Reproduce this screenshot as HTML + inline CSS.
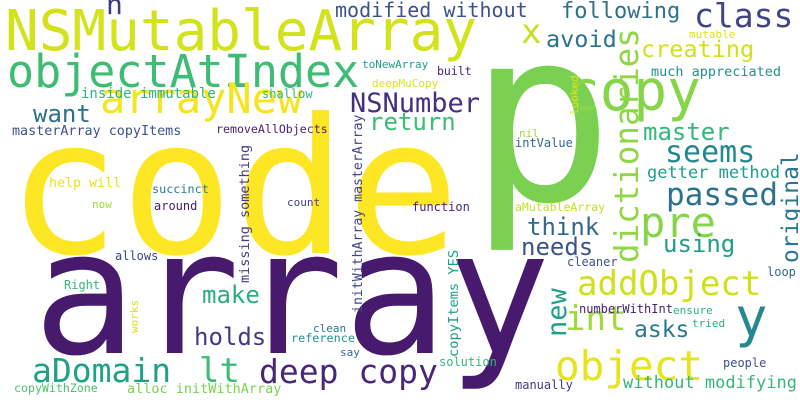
<!DOCTYPE html>
<html><head><meta charset="utf-8"><style>
html,body{margin:0;padding:0;background:#fff;overflow:hidden;}
svg{display:block;}
text{font-family:"DejaVu Sans Mono","Liberation Mono",monospace;}
</style></head><body>
<svg width="800" height="400" viewBox="0 0 800 400">
<rect width="800" height="400" fill="#fff"/>
<text x="7" y="253" font-size="188" fill="#fde725">code</text>
<text x="33" y="353" font-size="172" fill="#471a6d">array</text>
<text x="469" y="200" font-size="240" fill="#7ad151">p</text>
<text x="5" y="50" font-size="56" fill="#d2e21b">NSMutableArray</text>
<text x="106" y="14" font-size="28" fill="#3e3a82">n</text>
<text x="335" y="17" font-size="20" fill="#3b528b">modified without</text>
<text x="521" y="43" font-size="34" fill="#c8e020">x</text>
<text x="561" y="18" font-size="22" fill="#2c728e">following</text>
<text x="694" y="27" font-size="33" fill="#414487">class</text>
<text x="7" y="87" font-size="45" fill="#3dbc74">objectAtIndex</text>
<text x="100" y="113" font-size="42" fill="#f4e51e">arrayNew</text>
<text x="33" y="122" font-size="24" fill="#2d708e">want</text>
<text x="81" y="98" font-size="14" fill="#2db27d">inside immutable</text>
<text x="262" y="98" font-size="12" fill="#2fb47c">shallow</text>
<text x="362" y="68" font-size="11" fill="#1f9e89">toNewArray</text>
<text x="372" y="87" font-size="11" fill="#dde318">deepMuCopy</text>
<text x="350" y="112" font-size="27" fill="#443080">NSNumber</text>
<text x="369" y="130" font-size="24" fill="#3dbc74">return</text>
<text x="12" y="135" font-size="13.4" fill="#3b528b">masterArray copyItems</text>
<text x="216" y="133" font-size="11.6" fill="#482173">removeAllObjects</text>
<text transform="translate(249,283) rotate(-90)" font-size="13.5" fill="#443983">missing something</text>
<text transform="translate(362,313) rotate(-90)" font-size="13.2" fill="#414487">initWithArray masterArray</text>
<text x="49" y="187" font-size="13.3" fill="#e5e419">help will</text>
<text x="152" y="193" font-size="11.8" fill="#2a788e">succinct</text>
<text x="92" y="208" font-size="11" fill="#a0da39">now</text>
<text x="154" y="210" font-size="12" fill="#481a6c">around</text>
<text x="287" y="206" font-size="11" fill="#414487">count</text>
<text x="115" y="260" font-size="12" fill="#414487">allows</text>
<text x="64" y="289" font-size="12" fill="#35b779">Right</text>
<text transform="translate(138,333) rotate(-90)" font-size="11" fill="#d8e219">works</text>
<text x="202" y="303" font-size="24" fill="#29af7f">make</text>
<text x="194" y="345" font-size="24" fill="#443a83">holds</text>
<text x="313" y="332" font-size="11" fill="#2a788e">clean</text>
<text x="291" y="342" font-size="11.8" fill="#21918c">reference</text>
<text x="340" y="356" font-size="11" fill="#31688e">say</text>
<text x="32" y="382" font-size="33" fill="#1fa187">aDomain</text>
<text x="199" y="382" font-size="34" fill="#3dbc74">lt</text>
<text x="259" y="383" font-size="33" fill="#482878">deep copy</text>
<text x="14" y="392" font-size="11.6" fill="#4ac16d">copyWithZone</text>
<text x="127" y="393" font-size="13.5" fill="#7ad151">alloc initWithArray</text>
<text x="566" y="110" font-size="56" fill="#86d549">copy</text>
<text x="546" y="47" font-size="23.5" fill="#2c728e">avoid</text>
<text x="641" y="57" font-size="23.5" fill="#d0e11c">creating</text>
<text x="689" y="38" font-size="11" fill="#dde318">mutable</text>
<text x="651" y="76" font-size="13.5" fill="#21918c">much appreciated</text>
<text transform="translate(638,263) rotate(-90)" font-size="32.5" fill="#8fd744">dictionaries</text>
<text transform="translate(578,115) rotate(-90)" font-size="11" fill="#dde318">looked</text>
<text x="437" y="75" font-size="11.5" fill="#482173">built</text>
<text x="519" y="137" font-size="11" fill="#a0da39">nil</text>
<text x="515" y="147" font-size="12" fill="#31688e">intValue</text>
<text x="643" y="140" font-size="24" fill="#35b779">master</text>
<text x="665" y="162" font-size="30" fill="#23898e">seems</text>
<text x="647" y="178" font-size="17" fill="#1f9e89">getter method</text>
<text transform="translate(798,263) rotate(-90)" font-size="23" fill="#2a788e">original</text>
<text x="666" y="205" font-size="31" fill="#2c728e">passed</text>
<text x="640" y="237" font-size="42" fill="#86d549">pre</text>
<text x="527" y="235" font-size="24" fill="#31688e">think</text>
<text x="521" y="255" font-size="24" fill="#3b528b">needs</text>
<text x="412" y="211" font-size="12" fill="#482878">function</text>
<text x="515" y="211" font-size="11.5" fill="#c2df23">aMutableArray</text>
<text x="663" y="252" font-size="24" fill="#1f9e89">using</text>
<text x="567" y="266" font-size="12" fill="#3b528b">cleaner</text>
<text x="767" y="276" font-size="12" fill="#31688e">loop</text>
<text x="577" y="295" font-size="34" fill="#d0e11c">addObject</text>
<text transform="translate(566,337) rotate(-90)" font-size="27" fill="#1f9e89">new</text>
<text x="565" y="330" font-size="34" fill="#a0da39">int</text>
<text x="579" y="313" font-size="12" fill="#482173">numberWithInt</text>
<text x="673" y="314" font-size="11" fill="#2ab07f">ensure</text>
<text x="634" y="337" font-size="23" fill="#2a788e">asks</text>
<text x="692" y="327" font-size="11" fill="#29af7f">tried</text>
<text x="735" y="336" font-size="54" fill="#23898e">y</text>
<text transform="translate(458,357) rotate(-90)" font-size="13.7" fill="#1f9e89">copyItems YES</text>
<text x="439" y="366" font-size="12" fill="#35b779">solution</text>
<text x="555" y="380" font-size="41" fill="#e7e419">object</text>
<text x="723" y="367" font-size="12" fill="#3b528b">people</text>
<text x="515" y="389" font-size="12" fill="#443983">manually</text>
<text x="623" y="388" font-size="17" fill="#35b779">without modifying</text>
</svg>
</body></html>
